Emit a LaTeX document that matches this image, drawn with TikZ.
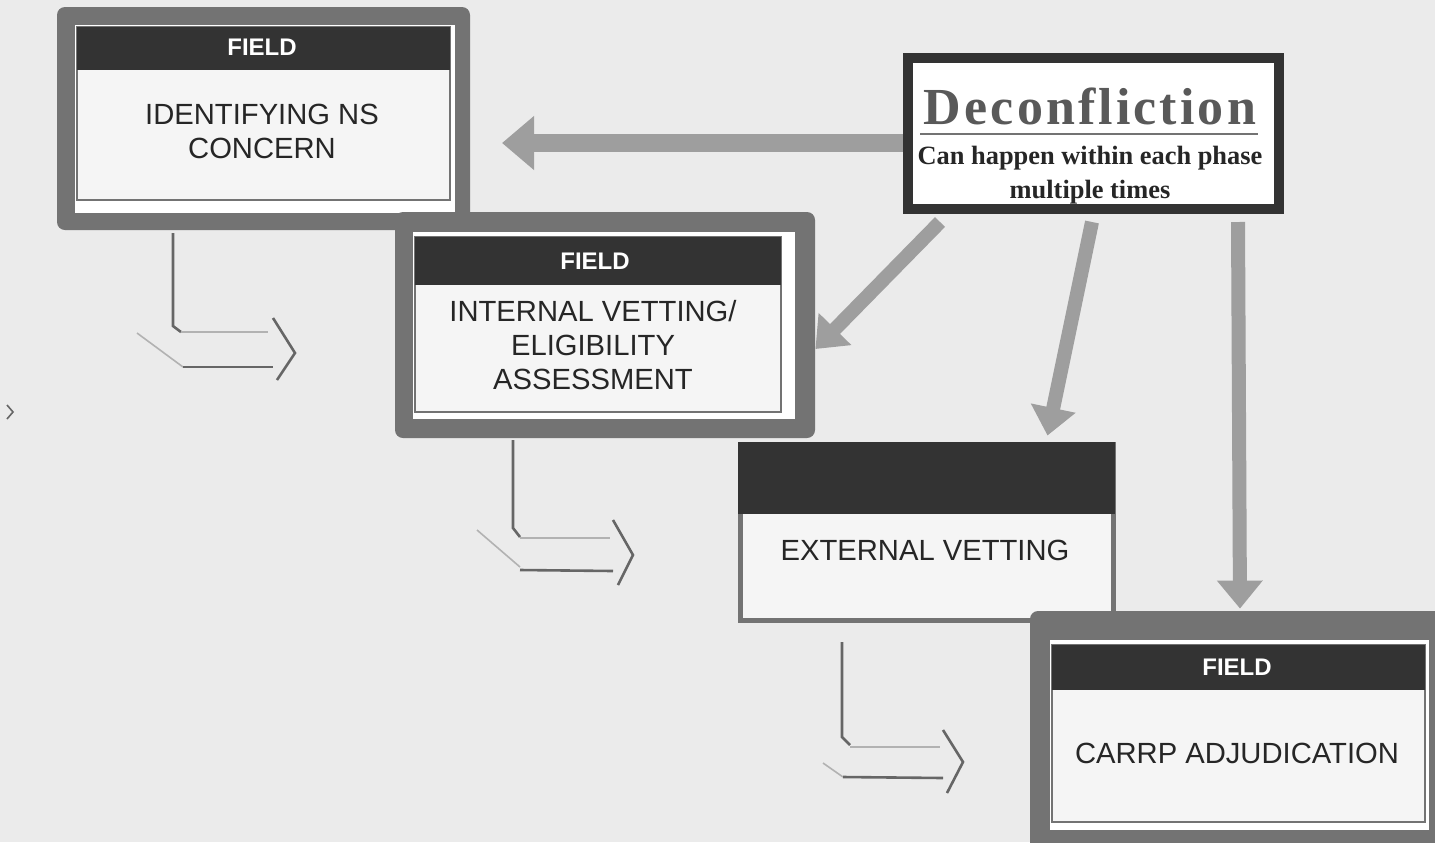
\documentclass[tikz,border=0pt]{standalone}
\usepackage{fontspec}
\setmainfont{Liberation Sans}
\newfontfamily\serifont{Liberation Serif}
\usetikzlibrary{fit,arrows.meta,calc}
\definecolor{bg}{gray}{0.92}
\definecolor{panelbg}{gray}{0.96}
\definecolor{framegray}{gray}{0.45}
\definecolor{headgray}{gray}{0.2}
\definecolor{arrowgray}{gray}{0.62}
\definecolor{flowgray}{gray}{0.4}
\begin{document}
\begin{tikzpicture}[x=0.5pt,y=-0.5pt,
  frame/.style={inner sep=0pt, fill=framegray, rounded corners=4pt},
  gapbox/.style={inner sep=0pt, fill=white},
  panel/.style={inner sep=0pt, fill=panelbg, draw=framegray, line width=0.8pt},
  head/.style={inner sep=0pt, fill=headgray},
  headtext/.style={text=white, font=\bfseries\fontsize{12}{14}\selectfont},
  body/.style={align=center, font=\fontsize{14.6}{17}\selectfont, text=black!85},
  link/.style={line width=7pt, draw=arrowgray, -{Triangle[length=14pt,width=22pt]}},
  flow/.style={line width=1.3pt, draw=flowgray},
  faint/.style={line width=0.8pt, draw=black!30},
]
\fill[bg] (0,0) rectangle (1435,842);
\useasboundingbox (0,0) rectangle (1435,842);

% Box 1
\node[frame, fit={(57,7) (470,230)}] (b1) {};
\node[gapbox, fit={(75,25) (455,213)}] (b1g) {};
\node[panel, fit={(77,27) (450,200)}] (b1p) {};
\node[head, fit={(77,27) (450,70)}] (b1h) {};
\node[headtext] (b1t) at (262,47) {FIELD};
\node[body] (b1b) at (262,131) {IDENTIFYING NS\\CONCERN};

% Box 2
\node[frame, fit={(395,212) (815,438)}] (b2) {};
\node[gapbox, fit={(413,232) (795,419)}] (b2g) {};
\node[panel, fit={(415,237) (781,412)}] (b2p) {};
\node[head, fit={(415,237) (781,285)}] (b2h) {};
\node[headtext] (b2t) at (595,261) {FIELD};
\node[body] (b2b) at (593,345) {INTERNAL VETTING/\\ELIGIBILITY\\ASSESSMENT};

% Box 3
\node[panel, line width=2.5pt, fit={(740,444) (1113,620)}] (b3) {};
\node[head, fit={(738,442) (1115,514)}] (b3h) {};
\node[body] (b3b) at (925,550) {EXTERNAL VETTING};

% Box 4
\node[frame, fit={(1030,611) (1460,870)}] (b4) {};
\node[gapbox, fit={(1050,640) (1429,830)}] (b4g) {};
\node[panel, fit={(1052,645) (1425,822)}] (b4p) {};
\node[head, fit={(1052,645) (1425,690)}] (b4h) {};
\node[headtext] (b4t) at (1237,667) {FIELD};
\node[body] (b4b) at (1237,753) {CARRP ADJUDICATION};

% Deconfliction
\node[draw=black!80, line width=5pt, fill=white, inner sep=0pt, fit={(908,58) (1279,209)}] (dec) {};
\node[font=\serifont\bfseries\fontsize{26}{30}\selectfont\addfontfeature{LetterSpace=6}, text=black!65] (dect) at (1090,106) {Deconfliction};
\draw[black!55, line width=1.2pt] (920,134) -- (1258,134);
\node[font=\serifont\bfseries\fontsize{13.2}{17}\selectfont, align=center, text=black!85] (decs) at (1090,175) {Can happen within each phase\\multiple times};

% Deconfliction links
\coordinate (tip1) at (502,143);
\draw[link, line width=9pt, -{Triangle[length=16pt,width=26pt]}] (dec.west |- tip1) -- (tip1);
\draw[link] ($(dec.south west)+(37,8)$) -- ($(b2.east)+(0,24)$);
\draw[link] ($(dec.south west)+(189,8)$) -- ($(b3.north east)+(-68,-6)$);
\draw[link] ($(dec.south east)+(-46,8)$) -- ($(b4.north)+(-5,-2)$);

% Flow arrows (outlined bent arrows)
\draw[flow] (173,233) -- (173,326) -- (181,332);
\draw[faint] (181,332) -- (268,332);
\draw[faint] (137,333) -- (183,367);
\draw[flow] (183,367) -- (273,367);
\draw[flow] (273,318) -- (295,353) -- (277,380);

\draw[flow] (513,440) -- (513,528) -- (520,537);
\draw[faint] (520,538) -- (610,538);
\draw[faint] (477,530) -- (520,567);
\draw[flow] (520,570) -- (613,571);
\draw[flow] (613,520) -- (633,555) -- (618,585);

\draw[flow] (842,642) -- (842,737) -- (850,745);
\draw[faint] (850,747) -- (940,747);
\draw[faint] (823,763) -- (843,777);
\draw[flow] (843,777) -- (943,778);
\draw[flow] (943,730) -- (963,762) -- (947,793);

% small mark at left edge
\draw[flow, line width=0.8pt] (7,405) -- (13,412) -- (7,419);
\end{tikzpicture}
\end{document}
